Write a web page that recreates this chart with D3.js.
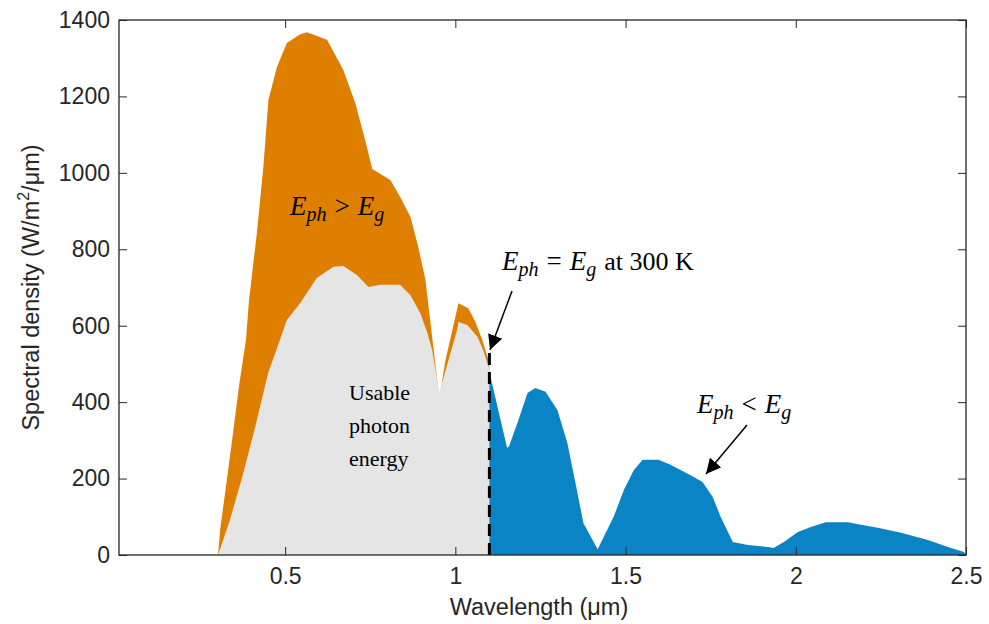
<!DOCTYPE html>
<html>
<head>
<meta charset="utf-8">
<script src="https://cdn.jsdelivr.net/npm/d3@7"></script>
<style>
  body { margin: 0; background: #fff; }
  text { font-family: "Liberation Sans", Arial, sans-serif; }
</style>
</head>
<body>
<svg id="chart" width="989" height="624"></svg>
<script>
// full solar spectrum up to the band gap (top of the orange area)
var aboveWl  = [0.303, 0.309, 0.326, 0.347, 0.365, 0.385, 0.391, 0.394, 0.417, 0.436, 0.451, 0.476, 0.505, 0.544, 0.564,
                0.623, 0.671, 0.706, 0.735, 0.756, 0.809, 0.838, 0.868, 0.891, 0.912, 0.926, 0.953, 0.971, 1.0, 1.009,
                1.038, 1.059, 1.079, 1.094, 1.1];
var aboveVal = [0, 65, 178, 319, 445, 563, 633, 667, 843, 1015, 1191, 1277, 1340, 1363, 1368,
                1348, 1269, 1183, 1086, 1010, 981, 937, 885, 806, 720, 615, 410, 510, 623, 659,
                646, 610, 563, 519, 505];

// usable part of the spectrum (grey area)
var usableWl  = [0.303, 0.338, 0.377, 0.412, 0.45, 0.485, 0.505, 0.544, 0.593, 0.642, 0.671, 0.711, 0.745, 0.779, 0.838,
                 0.868, 0.897, 0.918, 0.932, 0.953, 0.98, 1.005, 1.009, 1.035, 1.065, 1.082, 1.094, 1.1];
var usableVal = [0, 92, 214, 335, 476, 563, 615, 659, 725, 754, 756, 733, 701, 707, 707,
                 680, 633, 581, 536, 425, 510, 589, 610, 602, 571, 536, 502, 488];

// spectrum beyond the band gap (blue area)
var belowWl  = [1.1, 1.152, 1.158, 1.182, 1.212, 1.235, 1.265, 1.3, 1.329, 1.353, 1.376, 1.418, 1.465, 1.495, 1.524,
                1.55, 1.597, 1.632, 1.691, 1.726, 1.756, 1.779, 1.815, 1.859, 1.918, 1.935, 1.965, 2.006, 2.044, 2.088,
                2.153, 2.191, 2.241, 2.309, 2.388, 2.447, 2.494, 2.5];
var belowVal = [479, 280, 285, 345, 424, 437, 427, 379, 293, 188, 84, 15, 100, 170, 222,
                249, 249, 236, 209, 191, 152, 100, 34, 26, 21, 18, 34, 60, 73, 86,
                86, 79, 71, 58, 39, 21, 8, 0];

var bandGap = 1.1;
var gapHeight = 531;

var xTicks = [0.5, 1, 1.5, 2, 2.5];
var yTicks = [0, 200, 400, 600, 800, 1000, 1200, 1400];

var plot = { left: 119, right: 966, top: 20, bottom: 555 };
var svg = d3.select('#chart');

var x = d3.scaleLinear().domain([0.012, 2.5]).range([plot.left, plot.right]);
var y = d3.scaleLinear().domain([0, 1400]).range([plot.bottom, plot.top]);

function toPts(wl, val) { return wl.map(function(w, i) { return [w, val[i]]; }); }

var area = d3.area()
    .x(function(d) { return x(d[0]); })
    .y0(y(0))
    .y1(function(d) { return y(d[1]); });

svg.append('path').datum(toPts(aboveWl, aboveVal)).attr('d', area).attr('fill', '#df7f00');
svg.append('path').datum(toPts(usableWl, usableVal)).attr('d', area).attr('fill', '#e5e5e5');
svg.append('path').datum(toPts(belowWl, belowVal)).attr('d', area).attr('fill', '#0b84c6');

// band gap dashed line
svg.append('line')
    .attr('x1', x(bandGap)).attr('x2', x(bandGap))
    .attr('y1', y(0)).attr('y2', y(gapHeight))
    .style('stroke', '#000')
    .style('stroke-width', 3)
    .style('stroke-dasharray', '12,7');

// axes, matlab box style
var axisColor = '#262626';
function styleAxis(g, hideText) {
    g.select('.domain').remove();
    g.selectAll('line').attr('stroke', axisColor);
    g.selectAll('text').attr('fill', axisColor).style('font-size', '23px');
    if (hideText) g.selectAll('text').remove();
}
svg.append('g').attr('transform', 'translate(0,' + plot.bottom + ')')
    .call(d3.axisBottom(x).tickValues(xTicks).tickSize(-8).tickPadding(13).tickFormat(d3.format('')))
    .call(styleAxis, false);
svg.append('g').attr('transform', 'translate(0,' + plot.top + ')')
    .call(d3.axisTop(x).tickValues(xTicks).tickSize(-8))
    .call(styleAxis, true);
svg.append('g').attr('transform', 'translate(' + plot.left + ',0)')
    .call(d3.axisLeft(y).tickValues(yTicks).tickSize(-8).tickPadding(9).tickFormat(d3.format('')))
    .call(styleAxis, false);
svg.append('g').attr('transform', 'translate(' + plot.right + ',0)')
    .call(d3.axisRight(y).tickValues(yTicks).tickSize(-8))
    .call(styleAxis, true);

svg.append('rect')
    .attr('x', plot.left).attr('y', plot.top)
    .attr('width', plot.right - plot.left).attr('height', plot.bottom - plot.top)
    .attr('fill', 'none').attr('stroke', axisColor).attr('stroke-width', 1.3);

// axis labels
svg.append('text')
    .attr('x', 539).attr('y', 615)
    .attr('text-anchor', 'middle')
    .attr('fill', axisColor)
    .style('font-size', '23.5px')
    .text('Wavelength (μm)');

var yl = svg.append('text')
    .attr('transform', 'translate(39,' + ((plot.top + plot.bottom) / 2) + ') rotate(-90)')
    .attr('text-anchor', 'middle')
    .attr('fill', axisColor)
    .style('font-size', '23.5px');
yl.append('tspan').text('Spectral density (W/m');
yl.append('tspan').attr('dy', -10).style('font-size', '16px').text('2');
yl.append('tspan').attr('dy', 10).text('/μm)');

// math annotations
function mathLabel(px, py, op, extra) {
    var t = svg.append('text')
        .attr('x', px).attr('y', py)
        .style('font-family', '"Liberation Serif", "Times New Roman", serif')
        .style('font-size', '27px')
        .attr('fill', '#000');
    t.append('tspan').style('font-style', 'italic').text('E');
    t.append('tspan').style('font-style', 'italic').style('font-size', '20px').attr('dy', 6).text('ph');
    t.append('tspan').attr('dy', -6).attr('dx', 8).text(op);
    t.append('tspan').style('font-style', 'italic').attr('dx', 8).text('E');
    t.append('tspan').style('font-style', 'italic').style('font-size', '20px').attr('dy', 6).text('g');
    if (extra) t.append('tspan').attr('dy', -6).attr('dx', 8).style('font-size', '26px').text(extra);
}
mathLabel(290, 215, '>');
mathLabel(502, 270, '=', 'at 300 K');
mathLabel(697, 413, '<');

var usable = svg.append('text')
    .style('font-family', '"Liberation Serif", "Times New Roman", serif')
    .style('font-size', '22px')
    .attr('fill', '#000');
['Usable', 'photon', 'energy'].forEach(function(s, i) {
    usable.append('tspan').attr('x', 349).attr('y', 400 + i * 33).text(s);
});

// arrows
svg.append('defs').append('marker')
    .attr('id', 'head')
    .attr('viewBox', '0 0 10 10')
    .attr('refX', 10).attr('refY', 5)
    .attr('markerWidth', 15).attr('markerHeight', 15)
    .attr('markerUnits', 'userSpaceOnUse')
    .attr('orient', 'auto')
    .append('path').attr('d', 'M0,0 L10,5 L0,10 Z').attr('fill', '#000');

[[512, 291, 490, 350], [747, 425, 706, 474]].forEach(function(a) {
    svg.append('line')
        .attr('x1', a[0]).attr('y1', a[1]).attr('x2', a[2]).attr('y2', a[3])
        .style('stroke', '#000').style('stroke-width', 1.5)
        .attr('marker-end', 'url(#head)');
});
</script>
</body>
</html>
